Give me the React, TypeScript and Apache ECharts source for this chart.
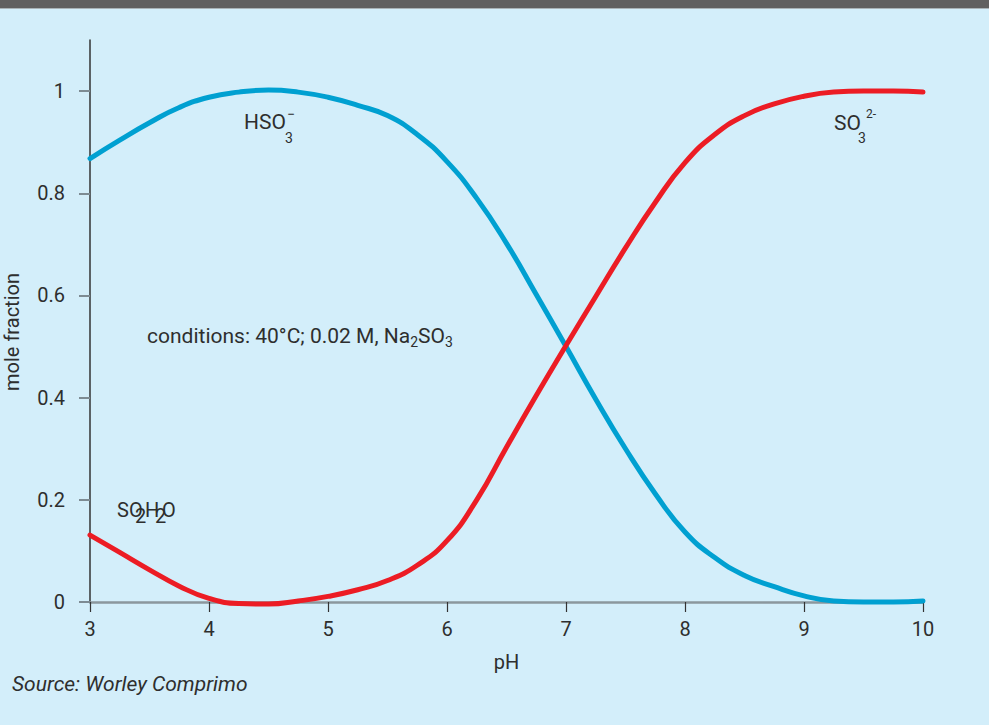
import React, { useEffect, useRef } from 'react';
import * as echarts from 'echarts';

// pH sample points
const pH = [3, 3.25, 3.5, 3.75, 4, 4.25, 4.5, 4.75, 5, 5.25, 5.5, 5.75, 6, 6.25, 6.5, 6.75, 7, 7.25, 7.5, 7.75, 8, 8.25, 8.5, 8.75, 9, 9.25, 9.5, 9.75, 10];
// HSO3- mole fraction (blue)
const hso3 = [0.868, 0.904, 0.938, 0.968, 0.988, 0.998, 1.002, 0.998, 0.988, 0.972, 0.952, 0.915, 0.862, 0.79, 0.702, 0.602, 0.5, 0.397, 0.3, 0.212, 0.137, 0.087, 0.052, 0.03, 0.012, 0.002, 0.0, 0.0, 0.002];
// SO2·H2O / SO3 2- mole fraction (red)
const so3 = [0.131, 0.097, 0.063, 0.031, 0.007, -0.003, -0.004, 0.002, 0.011, 0.024, 0.042, 0.072, 0.12, 0.2, 0.303, 0.404, 0.502, 0.598, 0.693, 0.782, 0.86, 0.915, 0.952, 0.975, 0.99, 0.998, 1.0, 1.0, 0.998];

const xTicks = [3, 4, 5, 6, 7, 8, 9, 10];
const yTicks = [0, 0.2, 0.4, 0.6, 0.8, 1];

const FONT = 'Roboto, sans-serif';
const TXT = '#2e2e2e';

export default function App() {
  const ref = useRef<HTMLDivElement>(null);
  useEffect(() => {
    const chart = echarts.init(ref.current!, null, { renderer: 'svg' });
    const txt = (text: string, x: number, y: number, size: number, extra: any = {}) => ({
      type: 'text',
      x,
      y,
      silent: true,
      style: { text, fontSize: size, fontFamily: FONT, fill: TXT, verticalAlign: 'middle', align: 'left', ...extra },
    });
    chart.setOption({
      animation: false,
      backgroundColor: '#d3eefa',
      grid: { left: 90, right: 66, top: 40, bottom: 123 },
      xAxis: {
        type: 'value',
        min: 3,
        max: 10,
        interval: 1,
        name: 'pH',
        nameLocation: 'middle',
        nameGap: 50,
        nameTextStyle: { fontSize: 20, fontFamily: FONT, color: TXT },
        axisLine: { show: true, lineStyle: { color: '#8b979d', width: 2.5 } },
        axisTick: { show: true, length: 10, lineStyle: { color: '#333', width: 1.2 }, customValues: xTicks },
        axisLabel: { fontSize: 20, fontFamily: FONT, color: TXT, margin: 17, customValues: xTicks },
        splitLine: { show: false },
      },
      yAxis: {
        type: 'value',
        min: 0,
        max: 1.1,
        axisLine: { show: true, lineStyle: { color: '#333', width: 1.5 } },
        axisTick: { show: true, length: 11, lineStyle: { color: '#7d8b93', width: 2 }, customValues: yTicks },
        axisLabel: { fontSize: 20, fontFamily: FONT, color: TXT, margin: 25, customValues: yTicks },
        splitLine: { show: false },
      },
      series: [
        {
          name: 'HSO3-',
          type: 'line',
          data: pH.map((x, i) => [x, hso3[i]]),
          symbol: 'none',
          smooth: 0.5,
          clip: false,
          lineStyle: { color: '#00a0d1', width: 5, cap: 'round' },
          z: 3,
        },
        {
          name: 'SO3 2-',
          type: 'line',
          data: pH.map((x, i) => [x, so3[i]]),
          symbol: 'none',
          smooth: 0.5,
          clip: false,
          lineStyle: { color: '#ec1c24', width: 5, cap: 'round' },
          z: 4,
        },
      ],
      graphic: [
        { type: 'rect', shape: { x: 0, y: 0, width: 989, height: 8 }, style: { fill: '#606060' }, silent: true },
        { type: 'rect', shape: { x: 0, y: 8, width: 989, height: 1 }, style: { fill: '#a9b3b7' }, silent: true },
        { ...txt('mole fraction', 12, 332, 20, { align: 'center' }), rotation: Math.PI / 2 },
        txt('Source: Worley Comprimo', 12, 684, 21, { fontStyle: 'italic' }),
        // HSO3-
        txt('HSO', 244, 122, 21),
        txt('3', 285, 138, 14),
        txt('\u2212', 287, 114, 14),
        // SO3 2-
        txt('SO', 834, 123, 21),
        txt('3', 858, 138, 14),
        txt('2-', 866, 114, 12),
        // SO2 H2O (overlapping, as in source)
        txt('SO', 117, 510, 20),
        txt('2', 135, 516, 20),
        txt('H', 145, 510, 20),
        txt('2', 155, 516, 20),
        txt('O', 162, 510, 20),
        // conditions
        {
          type: 'text',
          x: 147,
          y: 336,
          silent: true,
          style: {
            text: '{n|conditions: 40\u00b0C; 0.02 M, Na}{s|2}{n|SO}{s|3}',
            verticalAlign: 'middle',
            align: 'left',
            fontFamily: FONT,
            fill: TXT,
            rich: {
              n: { fontSize: 21, lineHeight: 26, fontFamily: FONT, fill: TXT },
              s: { fontSize: 14, lineHeight: 15, padding: [11, 0, 0, 0], fontFamily: FONT, fill: TXT },
            },
          },
        },
      ],
    });
    return () => chart.dispose();
  }, []);
  return <div ref={ref} style={{ position: 'absolute', left: 0, top: 0, width: 989, height: 725 }} />;
}
